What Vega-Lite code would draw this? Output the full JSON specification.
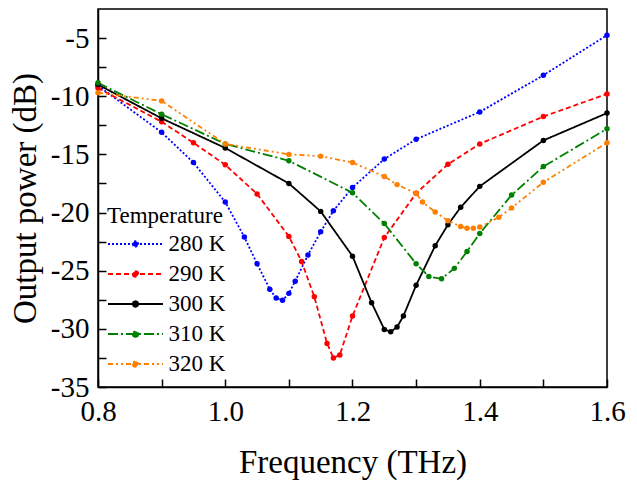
{
  "$schema": "https://vega.github.io/schema/vega-lite/v6.json",
  "width": 509,
  "height": 378,
  "autosize": {"type": "none"},
  "padding": {"left": 98, "top": 9, "right": 30, "bottom": 97},
  "background": "white",
  "config": {
    "view": {"stroke": "black", "strokeWidth": 1.5},
    "font": "'Liberation Serif'"
  },
  "data": {"values": [
    {"f": 0.8, "p": -9.1, "T": "280 K"},
    {"f": 0.9, "p": -13.1, "T": "280 K"},
    {"f": 0.95, "p": -15.7, "T": "280 K"},
    {"f": 1.0, "p": -19.1, "T": "280 K"},
    {"f": 1.03, "p": -22.1, "T": "280 K"},
    {"f": 1.05, "p": -24.4, "T": "280 K"},
    {"f": 1.07, "p": -26.6, "T": "280 K"},
    {"f": 1.08, "p": -27.35, "T": "280 K"},
    {"f": 1.09, "p": -27.55, "T": "280 K"},
    {"f": 1.10, "p": -26.95, "T": "280 K"},
    {"f": 1.11, "p": -25.9, "T": "280 K"},
    {"f": 1.13, "p": -23.65, "T": "280 K"},
    {"f": 1.15, "p": -21.65, "T": "280 K"},
    {"f": 1.17, "p": -19.85, "T": "280 K"},
    {"f": 1.20, "p": -17.85, "T": "280 K"},
    {"f": 1.25, "p": -15.4, "T": "280 K"},
    {"f": 1.30, "p": -13.7, "T": "280 K"},
    {"f": 1.40, "p": -11.35, "T": "280 K"},
    {"f": 1.50, "p": -8.2, "T": "280 K"},
    {"f": 1.60, "p": -4.75, "T": "280 K"},
    {"f": 0.8, "p": -9.3, "T": "290 K"},
    {"f": 0.9, "p": -12.2, "T": "290 K"},
    {"f": 0.95, "p": -14.0, "T": "290 K"},
    {"f": 1.0, "p": -15.9, "T": "290 K"},
    {"f": 1.05, "p": -18.4, "T": "290 K"},
    {"f": 1.1, "p": -22.05, "T": "290 K"},
    {"f": 1.12, "p": -24.2, "T": "290 K"},
    {"f": 1.14, "p": -27.25, "T": "290 K"},
    {"f": 1.16, "p": -31.25, "T": "290 K"},
    {"f": 1.17, "p": -32.5, "T": "290 K"},
    {"f": 1.18, "p": -32.25, "T": "290 K"},
    {"f": 1.2, "p": -28.9, "T": "290 K"},
    {"f": 1.25, "p": -22.15, "T": "290 K"},
    {"f": 1.3, "p": -18.35, "T": "290 K"},
    {"f": 1.35, "p": -15.85, "T": "290 K"},
    {"f": 1.4, "p": -14.1, "T": "290 K"},
    {"f": 1.5, "p": -11.75, "T": "290 K"},
    {"f": 1.6, "p": -9.8, "T": "290 K"},
    {"f": 0.8, "p": -9.0, "T": "300 K"},
    {"f": 0.9, "p": -11.9, "T": "300 K"},
    {"f": 1.0, "p": -14.45, "T": "300 K"},
    {"f": 1.1, "p": -17.5, "T": "300 K"},
    {"f": 1.15, "p": -19.9, "T": "300 K"},
    {"f": 1.2, "p": -23.75, "T": "300 K"},
    {"f": 1.23, "p": -27.75, "T": "300 K"},
    {"f": 1.25, "p": -30.05, "T": "300 K"},
    {"f": 1.26, "p": -30.25, "T": "300 K"},
    {"f": 1.27, "p": -29.85, "T": "300 K"},
    {"f": 1.28, "p": -28.9, "T": "300 K"},
    {"f": 1.3, "p": -26.25, "T": "300 K"},
    {"f": 1.33, "p": -22.85, "T": "300 K"},
    {"f": 1.35, "p": -21.05, "T": "300 K"},
    {"f": 1.37, "p": -19.55, "T": "300 K"},
    {"f": 1.4, "p": -17.75, "T": "300 K"},
    {"f": 1.5, "p": -13.8, "T": "300 K"},
    {"f": 1.6, "p": -11.45, "T": "300 K"},
    {"f": 0.8, "p": -8.85, "T": "310 K"},
    {"f": 0.9, "p": -11.55, "T": "310 K"},
    {"f": 1.0, "p": -14.1, "T": "310 K"},
    {"f": 1.1, "p": -15.55, "T": "310 K"},
    {"f": 1.2, "p": -18.3, "T": "310 K"},
    {"f": 1.25, "p": -20.95, "T": "310 K"},
    {"f": 1.3, "p": -24.4, "T": "310 K"},
    {"f": 1.32, "p": -25.5, "T": "310 K"},
    {"f": 1.34, "p": -25.7, "T": "310 K"},
    {"f": 1.36, "p": -24.8, "T": "310 K"},
    {"f": 1.38, "p": -23.35, "T": "310 K"},
    {"f": 1.4, "p": -21.8, "T": "310 K"},
    {"f": 1.45, "p": -18.5, "T": "310 K"},
    {"f": 1.5, "p": -16.05, "T": "310 K"},
    {"f": 1.6, "p": -12.8, "T": "310 K"},
    {"f": 0.8, "p": -9.7, "T": "320 K"},
    {"f": 0.9, "p": -10.4, "T": "320 K"},
    {"f": 1.0, "p": -14.1, "T": "320 K"},
    {"f": 1.1, "p": -15.0, "T": "320 K"},
    {"f": 1.15, "p": -15.15, "T": "320 K"},
    {"f": 1.2, "p": -15.7, "T": "320 K"},
    {"f": 1.25, "p": -16.9, "T": "320 K"},
    {"f": 1.27, "p": -17.6, "T": "320 K"},
    {"f": 1.3, "p": -18.35, "T": "320 K"},
    {"f": 1.31, "p": -19.1, "T": "320 K"},
    {"f": 1.33, "p": -19.95, "T": "320 K"},
    {"f": 1.35, "p": -20.7, "T": "320 K"},
    {"f": 1.37, "p": -21.2, "T": "320 K"},
    {"f": 1.38, "p": -21.35, "T": "320 K"},
    {"f": 1.39, "p": -21.35, "T": "320 K"},
    {"f": 1.4, "p": -21.25, "T": "320 K"},
    {"f": 1.43, "p": -20.4, "T": "320 K"},
    {"f": 1.45, "p": -19.6, "T": "320 K"},
    {"f": 1.5, "p": -17.4, "T": "320 K"},
    {"f": 1.6, "p": -14.0, "T": "320 K"}
  ]},
  "encoding": {
    "x": {
      "field": "f", "type": "quantitative",
      "scale": {"domain": [0.8, 1.6], "nice": false, "zero": false},
      "axis": {
        "title": "Frequency (THz)",
        "values": [0.8, 0.9, 1.0, 1.1, 1.2, 1.3, 1.4, 1.5, 1.6],
        "labelExpr": "indexof(['0.8','1.0','1.2','1.4','1.6'], format(datum.value, '.1f')) >= 0 ? format(datum.value, '.1f') : ''",
        "grid": false, "tickSize": -8, "tickColor": "black", "tickWidth": 1.5,
        "domainColor": "black", "domainWidth": 1.5,
        "labelFont": "'Liberation Serif'", "labelFontSize": 29, "labelColor": "black",
        "labelPadding": 18, "labelOverlap": false, "labelFlush": false,
        "titleFont": "'Liberation Serif'", "titleFontSize": 33, "titleFontWeight": "normal",
        "titleColor": "black", "titlePadding": 20
      }
    },
    "y": {
      "field": "p", "type": "quantitative",
      "scale": {"domain": [-35, -2.5], "nice": false, "zero": false},
      "axis": {
        "title": "Output power (dB)",
        "values": [-35, -32.5, -30, -27.5, -25, -22.5, -20, -17.5, -15, -12.5, -10, -7.5, -5],
        "labelExpr": "datum.value % 5 == 0 ? '' + datum.value : ''",
        "grid": false, "tickSize": -8, "tickColor": "black", "tickWidth": 1.5,
        "domainColor": "black", "domainWidth": 1.5,
        "labelFont": "'Liberation Serif'", "labelFontSize": 29, "labelColor": "black",
        "labelPadding": 17, "labelOverlap": false, "labelFlush": false,
        "titleFont": "'Liberation Serif'", "titleFontSize": 33, "titleFontWeight": "normal",
        "titleColor": "black", "titlePadding": 8
      }
    },
    "color": {
      "field": "T", "type": "nominal",
      "scale": {"domain": ["280 K", "290 K", "300 K", "310 K", "320 K"], "range": ["#0000ff", "#ff0000", "#000000", "#008000", "#ff8000"]},
      "legend": {
        "orient": "none", "legendX": 9, "legendY": 196,
        "title": "Temperature", "titleFont": "'Liberation Serif'", "titleFontSize": 23,
        "titleFontWeight": "normal", "titleColor": "black", "titlePadding": 4,
        "labelFont": "'Liberation Serif'", "labelFontSize": 23, "labelColor": "black",
        "symbolType": "M-2.5,0H2.5M-0.25,0A0.25,0.25 0 1,0 0.25,0A0.25,0.25 0 1,0 -0.25,0Z",
        "symbolSize": 484, "symbolOffset": 16.5, "labelOffset": 21,
        "symbolStrokeWidth": 1.8, "rowPadding": 6, "padding": 0
      }
    }
  },
  "layer": [
    {
      "mark": {"type": "line", "strokeWidth": 1.8},
      "encoding": {
        "strokeDash": {
          "field": "T", "type": "nominal",
          "scale": {"domain": ["280 K", "290 K", "300 K", "310 K", "320 K"], "range": [[2, 2], [5, 3], [1, 0], [10, 3, 2, 3], [5, 3, 2, 3, 2, 3]]},
          "legend": {
            "orient": "none", "legendX": 9, "legendY": 196,
            "title": "Temperature",
            "symbolType": "M-2.5,0H2.5M-0.25,0A0.25,0.25 0 1,0 0.25,0A0.25,0.25 0 1,0 -0.25,0Z",
            "symbolSize": 484, "symbolOffset": 16.5, "labelOffset": 21
          }
        }
      }
    },
    {
      "mark": {"type": "point", "filled": true, "size": 30, "opacity": 1}
    }
  ]
}
